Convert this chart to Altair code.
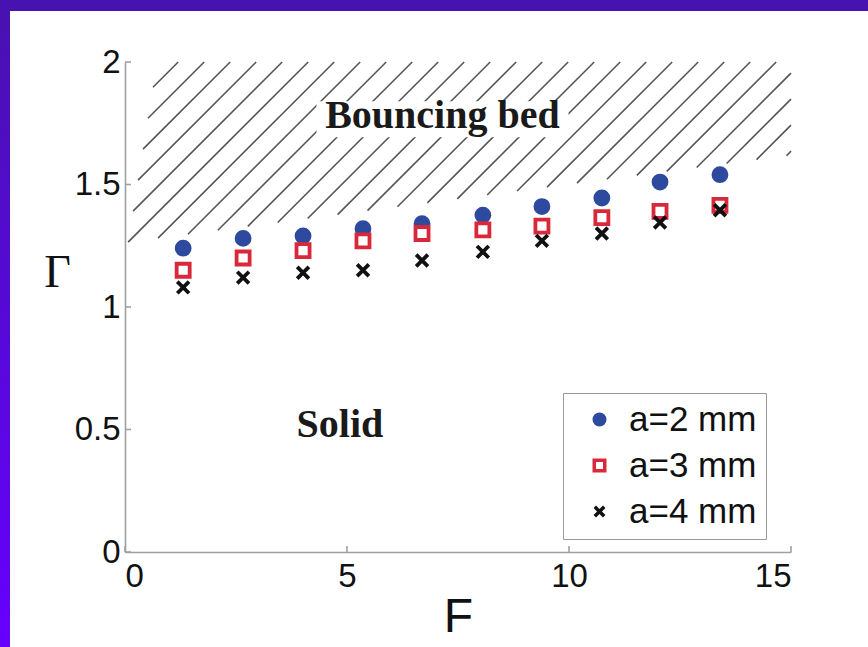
import altair as alt
import pandas as pd
import numpy as np

# ---------------- data ----------------
F_values = [1.31, 2.66, 4.01, 5.36, 6.69, 8.06, 9.39, 10.74, 12.05, 13.40]
gamma_a2 = [1.24, 1.28, 1.29, 1.32, 1.34, 1.375, 1.41, 1.445, 1.51, 1.54]
gamma_a3 = [1.15, 1.20, 1.23, 1.27, 1.30, 1.315, 1.33, 1.365, 1.39, 1.415]
gamma_a4 = [1.08, 1.12, 1.14, 1.15, 1.19, 1.225, 1.27, 1.30, 1.345, 1.395]
series_names = ["a=2 mm", "a=3 mm", "a=4 mm"]
series_fill = ["#2d4a9e", "#ffffff", "transparent"]
series_stroke = ["#2d4a9e", "#d9283a", "#111111"]

x_ticks = [0, 5, 10, 15]
y_ticks = [0, 0.5, 1, 1.5, 2]

# region (hatched "Bouncing bed" zone), convex polygon, counter-clockwise
region_x = [0.07, 15.0, 15.0, 0.72]
region_y = [1.265, 1.62, 2.0, 2.0]

annot_text = ["Bouncing bed", "Solid"]
annot_x = [7.15, 4.84]
annot_y = [1.73, 0.47]

# ---------------- layout ----------------
W, H = 666, 490
PAD = {"left": 125, "top": 62, "right": 77, "bottom": 95}
X_DOM = [0, 15]
Y_DOM = [0, 2]

# ---------------- points table ----------------
rows = []
for name, vals in zip(series_names, [gamma_a2, gamma_a3, gamma_a4]):
    for f, g in zip(F_values, vals):
        rows.append({"F": f, "Gamma": g, "series": name})
pts = pd.DataFrame(rows)

# ---------------- hatch lines (45 deg in pixel space), clipped to region ----------------
px_per_x = W / (X_DOM[1] - X_DOM[0])
px_per_y = H / (Y_DOM[1] - Y_DOM[0])
k = px_per_x / px_per_y            # data slope for a 45-degree line
spacing = 26.0 / px_per_x          # horizontal spacing of hatch lines
s_anchor = region_x[0] + (2.0 - region_y[0]) / k

verts = list(zip(region_x, region_y))
hatch = []
for i in range(-60, 60):
    s = s_anchor + i * spacing
    p0 = np.array([s, 2.0])
    d = np.array([1.0, k])
    tmin, tmax = -1e9, 1e9
    ok = True
    for j in range(len(verts)):
        a = np.array(verts[j])
        b = np.array(verts[(j + 1) % len(verts)])
        e = b - a
        c0 = e[0] * (p0 - a)[1] - e[1] * (p0 - a)[0]
        c1 = e[0] * d[1] - e[1] * d[0]
        if abs(c1) < 1e-12:
            if c0 < 0:
                ok = False
            continue
        t = -c0 / c1
        if c1 > 0:
            tmin = max(tmin, t)
        else:
            tmax = min(tmax, t)
    if ok and tmax - tmin > 1e-6:
        q0 = p0 + tmin * d
        q1 = p0 + tmax * d
        hatch.append({"x": q0[0], "y": q0[1], "x2": q1[0], "y2": q1[1]})
hatch_df = pd.DataFrame(hatch)

# white box behind the "Bouncing bed" label (derived from the label anchor)
box_df = pd.DataFrame([{
    "x": annot_x[0] - 126 / px_per_x, "x2": annot_x[0] + 126 / px_per_x,
    "y": annot_y[0] - 9 / px_per_y, "y2": annot_y[0] + 27 / px_per_y,
}])
text_df = pd.DataFrame({"x": annot_x, "y": annot_y, "label": annot_text})

xs = alt.Scale(domain=X_DOM, nice=False, zero=False)
ys = alt.Scale(domain=Y_DOM, nice=False, zero=False)

x_axis = alt.Axis(values=x_ticks, title="F", grid=False, ticks=False,
                  domainColor="#a0a0a0", domainWidth=1.6,
                  labelFont="Liberation Sans", labelFontSize=33, labelColor="#111111",
                  labelPadding=8, titleFont="Liberation Sans", titleFontSize=48,
                  titleFontWeight="normal", titleColor="#111111", titlePadding=0)
y_axis = alt.Axis(values=y_ticks, title="Γ", format="~g", grid=False, ticks=False,
                  domainColor="#a0a0a0", domainWidth=1.6,
                  labelFont="Liberation Sans", labelFontSize=33, labelColor="#111111",
                  labelPadding=5, titleFont="Liberation Serif", titleFontSize=46,
                  titleFontWeight="normal", titleColor="#111111", titleAngle=0,
                  titleAlign="center", titleBaseline="middle", titleX=-68, titleY=210)

one = alt.Data(values=[{}])

# purple frame bands
grad = alt.LinearGradient(gradient="linear",
                          stops=[alt.GradientStop(color="#4812b0", offset=0),
                                 alt.GradientStop(color="#6600ff", offset=1)],
                          x1=0, x2=0, y1=0, y2=1)
top_band = alt.Chart(one).mark_rect(color="#4812b0").encode(
    x=alt.value(-PAD["left"]), x2=alt.value(W + PAD["right"]),
    y=alt.value(-PAD["top"]), y2=alt.value(-PAD["top"] + 11))
left_band = alt.Chart(one).mark_rect(fill=grad).encode(
    x=alt.value(-PAD["left"]), x2=alt.value(-PAD["left"] + 10),
    y=alt.value(-PAD["top"]), y2=alt.value(H + PAD["bottom"]))

hatch_layer = alt.Chart(hatch_df).mark_rule(color="#555555", strokeWidth=1.6).encode(
    x=alt.X("x:Q", scale=xs, axis=x_axis), y=alt.Y("y:Q", scale=ys, axis=y_axis),
    x2="x2:Q", y2="y2:Q")

box_layer = alt.Chart(box_df).mark_rect(color="white").encode(
    x=alt.X("x:Q", scale=xs, axis=x_axis), y=alt.Y("y:Q", scale=ys, axis=y_axis),
    x2="x2:Q", y2="y2:Q")

text_layer = alt.Chart(text_df).mark_text(
    font="Liberation Serif", fontSize=40, fontWeight="bold", color="#1a1a1a",
    align="center", baseline="alphabetic").encode(
    x=alt.X("x:Q", scale=xs, axis=x_axis), y=alt.Y("y:Q", scale=ys, axis=y_axis),
    text="label:N")

legend = alt.Legend(title=None, orient="none", legendX=438, legendY=331,
                    strokeColor="#9a9a9a", fillColor="white", padding=9,
                    labelFont="Liberation Sans", labelFontSize=35, labelColor="#111111",
                    labelOffset=12, symbolOffset=10, symbolSize=110,
                    symbolStrokeWidth=3.5, rowPadding=10, labelLimit=400)

cross_path = "M-0.9,-0.9L0.9,0.9M-0.9,0.9L0.9,-0.9"
point_layer = alt.Chart(pts).mark_point(size=170, strokeWidth=3.8, opacity=1,
                                        filled=False).encode(
    x=alt.X("F:Q", scale=xs, axis=x_axis),
    y=alt.Y("Gamma:Q", scale=ys, axis=y_axis),
    shape=alt.Shape("series:N", scale=alt.Scale(domain=series_names,
                    range=["circle", "square", cross_path]), legend=legend),
    fill=alt.Fill("series:N", scale=alt.Scale(domain=series_names, range=series_fill),
                  legend=legend),
    stroke=alt.Stroke("series:N", scale=alt.Scale(domain=series_names, range=series_stroke),
                      legend=legend),
)

xtick_layer = alt.Chart(pd.DataFrame({"t": x_ticks})).mark_rule(
    color="#a0a0a0", strokeWidth=1.6).encode(
    x=alt.X("t:Q", scale=xs, axis=x_axis), y=alt.value(H), y2=alt.value(H - 6))
ytick_layer = alt.Chart(pd.DataFrame({"t": y_ticks})).mark_rule(
    color="#a0a0a0", strokeWidth=1.6).encode(
    y=alt.Y("t:Q", scale=ys, axis=y_axis), x=alt.value(0), x2=alt.value(6))

chart = alt.layer(
    top_band, left_band, hatch_layer, box_layer, text_layer,
    xtick_layer, ytick_layer, point_layer
).properties(
    width=W, height=H,
    autosize=alt.AutoSizeParams(type="none"),
    padding=PAD,
    background="white",
).configure_view(stroke=None)

chart.save("out.html", embed_options={"renderer": "svg", "actions": False})
